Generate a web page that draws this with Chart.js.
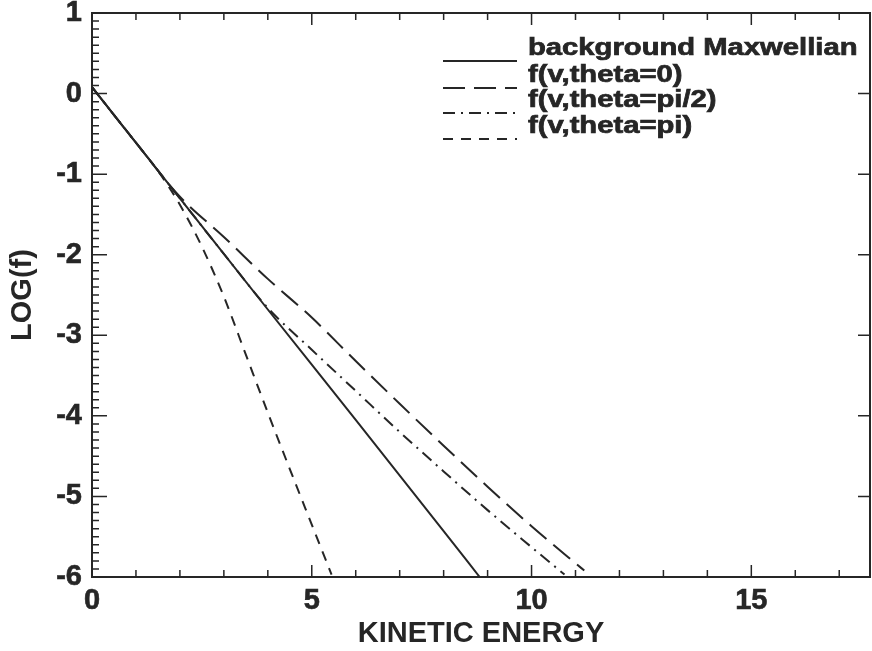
<!DOCTYPE html>
<html>
<head>
<meta charset="utf-8">
<script src="https://cdn.jsdelivr.net/npm/chart.js@4.4.1/dist/chart.umd.min.js"></script>
<style>
  html, body { margin: 0; padding: 0; background: #fff; overflow: hidden; }
</style>
</head>
<body>
<canvas id="chart" width="872" height="651"></canvas>
<script>
// Values: kinetic energy vs log10(f)
const maxwellE = [0, 2, 4, 6, 8, 8.82];
const maxwellF = [0.08, -1.30, -2.68, -4.05, -5.43, -6.0];

const theta0E = [0, 1, 2, 3, 4, 5, 6, 7, 8, 9, 10, 11, 11.2];
const theta0F = [0.08, -0.61, -1.28, -1.78, -2.30, -2.78, -3.32, -3.85, -4.37, -4.88, -5.37, -5.83, -5.92];

const thetaHalfPiE = [0, 1, 2, 3, 4, 5, 6, 7, 8, 9, 10, 10.75];
const thetaHalfPiF = [0.08, -0.61, -1.30, -1.99, -2.66, -3.18, -3.69, -4.20, -4.69, -5.17, -5.63, -5.97];

const thetaPiE = [0, 1, 1.5, 2, 2.5, 3, 3.5, 4, 4.5, 5, 5.45];
const thetaPiF = [0.08, -0.61, -0.96, -1.38, -1.90, -2.52, -3.24, -3.96, -4.66, -5.35, -5.97];

const xTicks = [0, 5, 10, 15];
const yTicks = [-6, -5, -4, -3, -2, -1, 0, 1];

const ink = "#262626";
const axisFont = { family: '"Liberation Sans", Arial, sans-serif', size: 29, weight: "bold" };

function pts(xs, ys) {
  return xs.map((x, i) => ({ x, y: ys[i] }));
}

// box round the plot with inward ticks on all four sides
const frameTicks = {
  id: "frameTicks",
  afterDraw(chart) {
    const { ctx, chartArea: a, scales: { x, y } } = chart;
    ctx.save();
    ctx.strokeStyle = ink;
    ctx.lineWidth = 2;
    ctx.strokeRect(a.left, a.top, a.right - a.left, a.bottom - a.top);
    ctx.lineWidth = 1.5;
    ctx.beginPath();
    for (let v = 0; v <= x.max; v++) {
      const px = x.getPixelForValue(v);
      const len = v % 5 === 0 ? 12 : 7;
      ctx.moveTo(px, a.bottom); ctx.lineTo(px, a.bottom - len);
      ctx.moveTo(px, a.top); ctx.lineTo(px, a.top + len);
    }
    for (let i = 0; i <= 70; i++) {
      const py = y.getPixelForValue(-6 + i / 10);
      const major = i % 10 === 0;
      ctx.moveTo(a.left, py); ctx.lineTo(a.left + (major ? 15 : 7), py);
      if (major) { ctx.moveTo(a.right, py); ctx.lineTo(a.right - 12, py); }
    }
    ctx.stroke();
    ctx.restore();
  }
};

// IDL style legend: line sample, then label
const legendLines = {
  id: "legendLines",
  afterDatasetsDraw(chart) {
    const { ctx } = chart;
    const baselines = [55, 82, 107, 133];
    ctx.save();
    chart.data.datasets.forEach((ds, i) => {
      const yb = baselines[i];
      ctx.strokeStyle = ink;
      ctx.lineWidth = 2;
      ctx.setLineDash(ds.borderDash || []);
      ctx.beginPath();
      ctx.moveTo(443, yb + 6);
      ctx.lineTo(517, yb + 6);
      ctx.stroke();
      ctx.setLineDash([]);
      ctx.save();
      ctx.translate(528, yb);
      ctx.scale(1.27, 1);
      ctx.font = 'bold 23px "Liberation Sans", Arial, sans-serif';
      ctx.fillStyle = ink;
      ctx.lineWidth = 0.7;
      ctx.textBaseline = "alphabetic";
      ctx.fillText(ds.label, 0, 0);
      ctx.strokeText(ds.label, 0, 0);
      ctx.restore();
    });
    ctx.restore();
  }
};

new Chart(document.getElementById("chart"), {
  type: "line",
  data: {
    datasets: [
      { label: "background Maxwellian", data: pts(maxwellE, maxwellF), borderDash: [] },
      { label: "f(v,theta=0)", data: pts(theta0E, theta0F), borderDash: [22, 9] },
      { label: "f(v,theta=pi/2)", data: pts(thetaHalfPiE, thetaHalfPiF), borderDash: [12, 6, 2, 6] },
      { label: "f(v,theta=pi)", data: pts(thetaPiE, thetaPiF), borderDash: [10, 8] },
    ],
  },
  options: {
    responsive: false,
    animation: false,
    devicePixelRatio: 1,
    layout: { padding: { top: 13, right: 2, left: 0, bottom: 0 } },
    elements: {
      point: { radius: 0 },
      line: { borderWidth: 2, borderColor: ink, fill: false, cubicInterpolationMode: "monotone" },
    },
    plugins: { legend: { display: false }, tooltip: { enabled: false } },
    scales: {
      x: {
        type: "linear",
        min: 0,
        max: 17.7,
        afterBuildTicks: s => { s.ticks = xTicks.map(v => ({ value: v })); },
        afterFit: s => { s.height = 74; s.paddingLeft = 0; s.paddingRight = 0; },
        grid: { display: false, drawTicks: false },
        border: { display: false },
        ticks: { font: axisFont, color: ink, textStrokeColor: ink, textStrokeWidth: 0.6, padding: 7, maxRotation: 0, autoSkip: false, callback: v => String(v) },
        title: { display: true, text: "KINETIC ENERGY", font: axisFont, color: ink, padding: { top: 0, bottom: 0 } },
      },
      y: {
        type: "linear",
        min: -6,
        max: 1,
        afterBuildTicks: s => { s.ticks = yTicks.map(v => ({ value: v })); },
        afterFit: s => { s.width = 92; s.paddingTop = 0; s.paddingBottom = 0; },
        grid: { display: false, drawTicks: false },
        border: { display: false },
        ticks: { font: axisFont, color: ink, textStrokeColor: ink, textStrokeWidth: 0.6, padding: 10, autoSkip: false, callback: v => String(v) },
        title: { display: true, text: "LOG(f)", font: axisFont, color: ink, padding: { top: 6, bottom: 0 } },
      },
    },
  },
  plugins: [frameTicks, legendLines],
});
</script>
</body>
</html>
